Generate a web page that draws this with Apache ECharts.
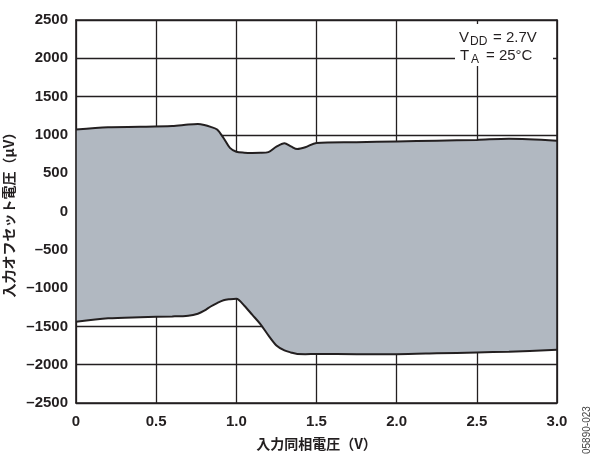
<!DOCTYPE html>
<html>
<head>
<meta charset="utf-8">
<script src="https://cdn.jsdelivr.net/npm/echarts@6/dist/echarts.min.js"></script>
<style>
html,body{margin:0;padding:0;background:#fff;}
#chart{width:591px;height:457px;}
</style>
</head>
<body>
<div id="chart"></div>
<script>
// Input common-mode voltage (V)
const xs = [0, 0.2, 0.4, 0.6, 0.7, 0.76, 0.8, 0.84, 0.88, 0.92, 0.96, 1.0, 1.05, 1.1, 1.15, 1.2, 1.25, 1.3, 1.34, 1.38, 1.43, 1.5, 1.75, 2.0, 2.25, 2.5, 2.7, 3.0];
// Upper bound of input offset voltage (µV)
const upper = [1070, 1100, 1105, 1115, 1135, 1142, 1130, 1105, 1070, 960, 830, 780, 768, 765, 766, 775, 846, 890, 850, 815, 838, 895, 905, 915, 925, 935, 950, 925];
// Lower bound of input offset voltage (µV)
const lower = [-1440, -1395, -1380, -1370, -1360, -1334, -1295, -1240, -1195, -1158, -1145, -1138, -1230, -1350, -1470, -1617, -1748, -1813, -1840, -1860, -1862, -1860, -1862, -1862, -1852, -1840, -1830, -1805];
// Axis ticks
const xTicks = [0, 0.5, 1.0, 1.5, 2.0, 2.5, 3.0];
const yTicks = [-2500, -2000, -1500, -1000, -500, 0, 500, 1000, 1500, 2000, 2500];

const INK = '#231f20';
const FILL = '#b1b8c1';
const SMOOTH = 0.3;
const tickFont = {fontFamily: 'Liberation Sans, Arial, sans-serif', fontSize: 15, fontWeight: 'bold', color: INK};
const cjkFont = 'Noto Sans CJK JP, sans-serif';

const chart = echarts.init(document.getElementById('chart'));

function overlayX(pos) {
  return {type: 'value', position: pos, min: xTicks[0], max: xTicks[xTicks.length - 1], z: 10,
    axisLine: {show: true, onZero: false, lineStyle: {color: INK, width: 1.6}}, axisTick: {show: false},
    axisLabel: {show: false}, splitLine: {show: false}};
}
function overlayY(pos) {
  return {type: 'value', position: pos, min: yTicks[0], max: yTicks[yTicks.length - 1], z: 10,
    axisLine: {show: true, onZero: false, lineStyle: {color: INK, width: 1.6}}, axisTick: {show: false},
    axisLabel: {show: false}, splitLine: {show: false}};
}

// data rows are [value, x] so that stacking happens on the value (y) dimension
const enc = {x: 1, y: 0};

chart.setOption({
  animation: false,
  backgroundColor: '#fff',
  grid: {left: 76, right: 34, top: 20, bottom: 54, containLabel: false, outerBoundsMode: 'none'},
  xAxis: [
    {type: 'value', min: xTicks[0], max: xTicks[xTicks.length - 1], interval: 0.5,
      name: '入力同相電圧（V）', nameLocation: 'middle', nameGap: 34,
      nameTextStyle: {fontFamily: cjkFont, fontSize: 14, fontWeight: 'bold', color: INK},
      axisLine: {show: false, onZero: false}, axisTick: {show: false},
      axisLabel: Object.assign({margin: 11, formatter: v => v === 0 ? '0' : v.toFixed(1)}, tickFont),
      splitLine: {show: true, lineStyle: {color: INK, width: 1.3}}},
    overlayX('top'),
    overlayX('bottom')
  ],
  yAxis: [
    {type: 'value', min: yTicks[0], max: yTicks[yTicks.length - 1], interval: 500,
      name: '入力オフセット電圧（μV）', nameLocation: 'middle', nameGap: 57,
      nameTextStyle: {fontFamily: cjkFont, fontSize: 14, fontWeight: 'bold', color: INK},
      axisLine: {show: false, onZero: false}, axisTick: {show: false},
      axisLabel: Object.assign({margin: 8, formatter: v => String(v).replace('-', '–')}, tickFont),
      splitLine: {show: true, lineStyle: {color: INK, width: 1.3}}},
    overlayY('left'),
    overlayY('right')
  ],
  series: [
    {type: 'line', name: 'base', stack: 'band', stackStrategy: 'all', symbol: 'none', smooth: SMOOTH, silent: true,
      encode: enc, lineStyle: {opacity: 0}, data: xs.map((x, i) => [lower[i], x])},
    {type: 'line', name: 'band', stack: 'band', stackStrategy: 'all', symbol: 'none', smooth: SMOOTH, silent: true,
      encode: enc, lineStyle: {opacity: 0}, areaStyle: {color: FILL, opacity: 1},
      data: xs.map((x, i) => [upper[i] - lower[i], x])},
    {type: 'line', name: 'upper', symbol: 'none', smooth: SMOOTH, z: 4, xAxisIndex: 1, yAxisIndex: 1,
      lineStyle: {color: INK, width: 2}, data: xs.map((x, i) => [x, upper[i]])},
    {type: 'line', name: 'lower', symbol: 'none', smooth: SMOOTH, z: 4, xAxisIndex: 2, yAxisIndex: 2,
      lineStyle: {color: INK, width: 2}, data: xs.map((x, i) => [x, lower[i]])}
  ],
  graphic: [
    {type: 'rect', z: 50, shape: {x: 455, y: 24, width: 98, height: 42}, style: {fill: '#fff'}},
    {type: 'text', z: 51, x: 459, y: 30, style: {text: 'V', font: '15px "Liberation Sans", Arial, sans-serif', fill: INK}},
    {type: 'text', z: 51, x: 470, y: 36, style: {text: 'DD', font: '12px "Liberation Sans", Arial, sans-serif', fill: INK}},
    {type: 'text', z: 51, x: 493, y: 30, style: {text: '= 2.7V', font: '15px "Liberation Sans", Arial, sans-serif', fill: INK}},
    {type: 'text', z: 51, x: 460, y: 48, style: {text: 'T', font: '15px "Liberation Sans", Arial, sans-serif', fill: INK}},
    {type: 'text', z: 51, x: 471, y: 54, style: {text: 'A', font: '12px "Liberation Sans", Arial, sans-serif', fill: INK}},
    {type: 'text', z: 51, x: 486, y: 48, style: {text: '= 25°C', font: '15px "Liberation Sans", Arial, sans-serif', fill: INK}},
    {type: 'text', z: 51, x: 582, y: 454, rotation: Math.PI / 2,
      style: {text: '05890-023', font: '10px "Liberation Sans", Arial, sans-serif', fill: '#444'}}
  ]
});
</script>
</body>
</html>
